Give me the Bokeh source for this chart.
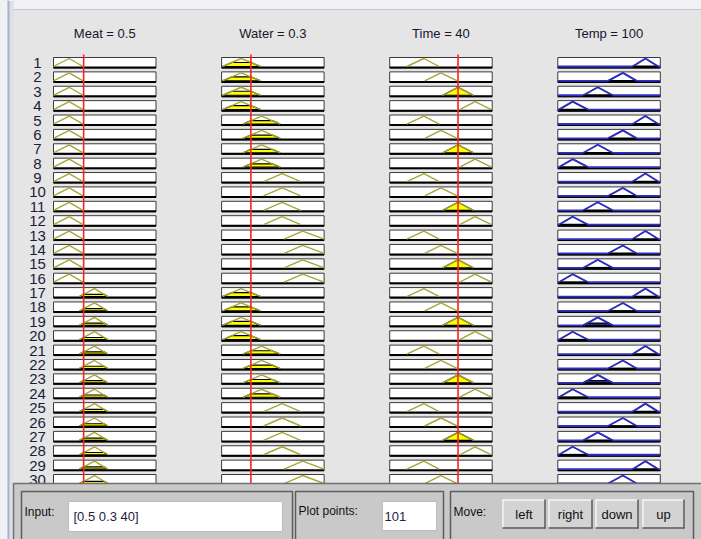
from bokeh.plotting import figure
from bokeh.models import Range1d
from bokeh.embed import file_html
from bokeh.resources import INLINE
from bokeh.core.properties import value

# ---------------- data (read from the rule viewer) ----------------
rule_numbers = [1, 2, 3, 4, 5, 6, 7, 8, 9, 10, 11, 12, 13, 14, 15,
                16, 17, 18, 19, 20, 21, 22, 23, 24, 25, 26, 27, 28, 29, 30]

input_names = ["Meat", "Water", "Time"]
input_values = [0.5, 0.3, 40]
input_ranges = [[0.0, 1.7], [0.0, 1.05], [0.0, 60.0]]
output_name = "Temp"
output_value = 100
output_range = [0.0, 200.0]

# triangular membership functions [a, b, c]
meat_mfs = [[0.0, 0.26, 0.49], [0.43, 0.68, 0.90]]
water_mfs = [[0.01, 0.20, 0.40], [0.22, 0.41, 0.60],
             [0.43, 0.62, 0.81], [0.64, 0.83, 1.05]]
time_mfs = [[10.0, 20.0, 29.0], [20.5, 30.0, 39.5],
            [31.0, 40.0, 49.0], [41.0, 50.0, 59.5]]
temp_mfs = [[2.0, 29.0, 59.0], [50.0, 78.0, 107.0],
            [98.0, 127.0, 154.0], [146.0, 171.0, 196.0]]

# membership-function index used by each rule (1-based)
rule_meat = [1, 1, 1, 1, 1, 1, 1, 1, 1, 1, 1, 1, 1, 1, 1,
             1, 2, 2, 2, 2, 2, 2, 2, 2, 2, 2, 2, 2, 2, 2]
rule_water = [1, 1, 1, 1, 2, 2, 2, 2, 3, 3, 3, 3, 4, 4, 4,
              4, 1, 1, 1, 1, 2, 2, 2, 2, 3, 3, 3, 3, 4, 4]
rule_time = [1, 2, 3, 4, 1, 2, 3, 4, 1, 2, 3, 4, 1, 2, 3,
             4, 1, 2, 3, 4, 1, 2, 3, 4, 1, 2, 3, 4, 1, 2]
rule_temp = [4, 3, 2, 1, 4, 3, 2, 1, 4, 3, 2, 1, 4, 3, 2,
             1, 4, 3, 2, 1, 4, 3, 2, 1, 4, 3, 2, 1, 4, 3]

input_box_text = "[0.5 0.3 40]"
plot_points_text = "101"
move_buttons = ["left", "right", "down", "up"]

# ---------------- layout (pixel space of the window) ----------------
W, H = 701, 539
X0, COL_STEP, BOX_W = 53.0, 168.1, 102.5
Y0, ROW_STEP, BOX_H = 57.0, 14.38, 10.5
BASE_OFF, MF_H = 9.0, 8.0
FONT = value("Liberation Sans")

all_input_mfs = [meat_mfs, water_mfs, time_mfs]
rule_inputs = [rule_meat, rule_water, rule_time]


def tri_mu(v, abc):
    a, b, c = abc
    if v <= a or v >= c:
        return 0.0
    if v <= b:
        return (v - a) / (b - a)
    return (c - v) / (c - b)


def px(col, v, rng):
    return X0 + col * COL_STEP + (v - rng[0]) / (rng[1] - rng[0]) * BOX_W


def py(row, mu):
    return Y0 + row * ROW_STEP + BASE_OFF - mu * MF_H


def clipped(abc, mu):
    a, b, c = abc
    if mu >= 1.0:
        return [a, b, c], [0.0, 1.0, 0.0]
    return [a, a + mu * (b - a), c - mu * (c - b), c], [0.0, mu, mu, 0.0]


p = figure(width=W, height=H, x_range=Range1d(0, W), y_range=Range1d(H, 0),
           toolbar_location=None, output_backend="svg", min_border=0,
           x_axis_location=None, y_axis_location=None,
           background_fill_color="#E5E5E5", border_fill_color="#E5E5E5",
           outline_line_color=None)
p.xgrid.visible = False
p.ygrid.visible = False

# window chrome
p.quad(left=[13], right=[W], top=[0], bottom=[9], fill_color="#F0F1F4", line_color=None)
p.segment(x0=[13], y0=[9], x1=[W], y1=[9], line_color="#C3CAD6", line_width=1.2)
p.quad(left=[0], right=[13], top=[0], bottom=[H], fill_color="#DAE1ED", line_color=None)
p.quad(left=[0], right=[7], top=[0], bottom=[H], fill_color="#F1F2F6", line_color=None)
p.segment(x0=[8], y0=[0], x1=[8], y1=[H], line_color="#AAB4C7", line_width=2)

# ---------------- boxes ----------------
n = len(rule_numbers)
lefts, rights, tops, bottoms = [], [], [], []
for r in range(n):
    for col in range(4):
        lefts.append(X0 + col * COL_STEP)
        rights.append(X0 + col * COL_STEP + BOX_W)
        tops.append(Y0 + r * ROW_STEP)
        bottoms.append(Y0 + r * ROW_STEP + BOX_H)
p.quad(left=lefts, right=rights, top=tops, bottom=bottoms,
       fill_color="white", line_color="#3A3A3A", line_width=1)
p.segment(x0=lefts, y0=[b - 0.5 for b in bottoms], x1=rights, y1=[b - 0.5 for b in bottoms],
          line_color="black", line_width=2)

# ---------------- input membership functions ----------------
fill_xs, fill_ys, line_xs, line_ys = [], [], [], []
for r in range(n):
    for col in range(3):
        rng = input_ranges[col]
        abc = all_input_mfs[col][rule_inputs[col][r] - 1]
        mu = tri_mu(input_values[col], abc)
        if mu > 0:
            xs, ys = clipped(abc, mu)
            fill_xs.append([px(col, v, rng) for v in xs])
            fill_ys.append([py(r, m) for m in ys])
        line_xs.append([px(col, v, rng) for v in abc])
        line_ys.append([py(r, 0), py(r, 1), py(r, 0)])
p.patches(fill_xs, fill_ys, fill_color="#FFFF00", line_color="black", line_width=1.2)
p.multi_line(line_xs, line_ys, line_color="#A6A638", line_width=1.4)

# ---------------- output membership functions ----------------
oxs, oys, bxs, bys, ofx, ofy, txs, tys = [], [], [], [], [], [], [], []
for r in range(n):
    strength = min(tri_mu(input_values[c], all_input_mfs[c][rule_inputs[c][r] - 1])
                   for c in range(3))
    abc = temp_mfs[rule_temp[r] - 1]
    xs = [output_range[0]] + abc + [output_range[1]]
    oxs.append([px(3, v, output_range) for v in xs])
    oys.append([py(r, m) for m in [0, 0, 1, 0, 0]])
    bxs.append([px(3, abc[0], output_range), px(3, abc[2], output_range)])
    bys.append([py(r, 0), py(r, 0)])
    txs.append([px(3, v, output_range) for v in abc])
    tys.append([py(r, 0), py(r, 1), py(r, 0)])
    if strength > 0:
        cx, cy = clipped(abc, strength)
        ofx.append([px(3, v, output_range) for v in cx])
        ofy.append([py(r, m) for m in cy])
p.multi_line(oxs, oys, line_color="#3030C0", line_width=1.8)
p.multi_line(bxs, bys, line_color="black", line_width=1.8)
p.patches(ofx, ofy, fill_color="#3535D0", line_color="black", line_width=1.2)
p.multi_line(txs, tys, line_color="#3030C0", line_width=1.3)

# red input lines
for col in range(3):
    x = px(col, input_values[col], input_ranges[col])
    p.segment(x0=[x], y0=[54], x1=[x], y1=[483], line_color="#FF2020", line_width=1.6)

# headers and rule numbers
head_text = [f"{nm} = {v}" for nm, v in zip(input_names, input_values)] + \
            [f"{output_name} = {output_value}"]
p.text(x=[X0 + c * COL_STEP + BOX_W / 2 for c in range(4)], y=[33] * 4, text=head_text,
       text_font=FONT, text_font_size="13px", text_align="center",
       text_baseline="middle", text_color="#16162C")
p.text(x=[37] * n, y=[Y0 + r * ROW_STEP + 5.5 for r in range(n)],
       text=[str(k) for k in rule_numbers],
       text_font=value("Liberation Sans Narrow, Liberation Sans"), text_font_size="15px",
       text_align="center", text_baseline="middle", text_color="#1C1C3A")

# ---------------- bottom control panel ----------------
p.quad(left=[13], right=[W + 5], top=[483], bottom=[H + 5], fill_color="#C9C9C9",
       line_color="#707070", line_width=1.5)
p.quad(left=[21, 295, 450], right=[292, 443, 693], top=[491] * 3, bottom=[H + 5] * 3,
       fill_color="#C9C9C9", line_color="#5E5E5E", line_width=1.5)
p.quad(left=[68, 382], right=[282, 436], top=[501, 501], bottom=[531, 530],
       fill_color="white", line_color="#BDBDBD", line_width=1)
p.text(x=[24, 298, 453], y=[511, 510, 511], text=["Input:", "Plot points:", "Move:"],
       text_font=FONT, text_font_size="12px", text_baseline="middle", text_color="#111111")
p.text(x=[73, 384], y=[516, 516], text=[input_box_text, plot_points_text],
       text_font=FONT, text_font_size="13px", text_baseline="middle", text_color="#1E1E40")

bl = [502, 548, 595, 642]
br = [545, 592, 638, 684]
p.quad(left=bl, right=br, top=[499] * 4, bottom=[528] * 4, fill_color="#D3D3D3",
       line_color=None)
p.segment(x0=bl, y0=[499.5] * 4, x1=br, y1=[499.5] * 4, line_color="#F4F4F4", line_width=1.5)
p.segment(x0=[x + 0.5 for x in bl], y0=[499] * 4, x1=[x + 0.5 for x in bl], y1=[528] * 4,
          line_color="#F4F4F4", line_width=1.5)
p.segment(x0=bl, y0=[527.5] * 4, x1=br, y1=[527.5] * 4, line_color="#5A5A5A", line_width=1.5)
p.segment(x0=[x - 0.5 for x in br], y0=[499] * 4, x1=[x - 0.5 for x in br], y1=[528] * 4,
          line_color="#5A5A5A", line_width=1.5)
p.text(x=[(a + b) / 2 for a, b in zip(bl, br)], y=[514] * 4, text=move_buttons,
       text_font=FONT, text_font_size="13px", text_align="center",
       text_baseline="middle", text_color="#111111")

open("out.html", "w").write(file_html(p, INLINE))
